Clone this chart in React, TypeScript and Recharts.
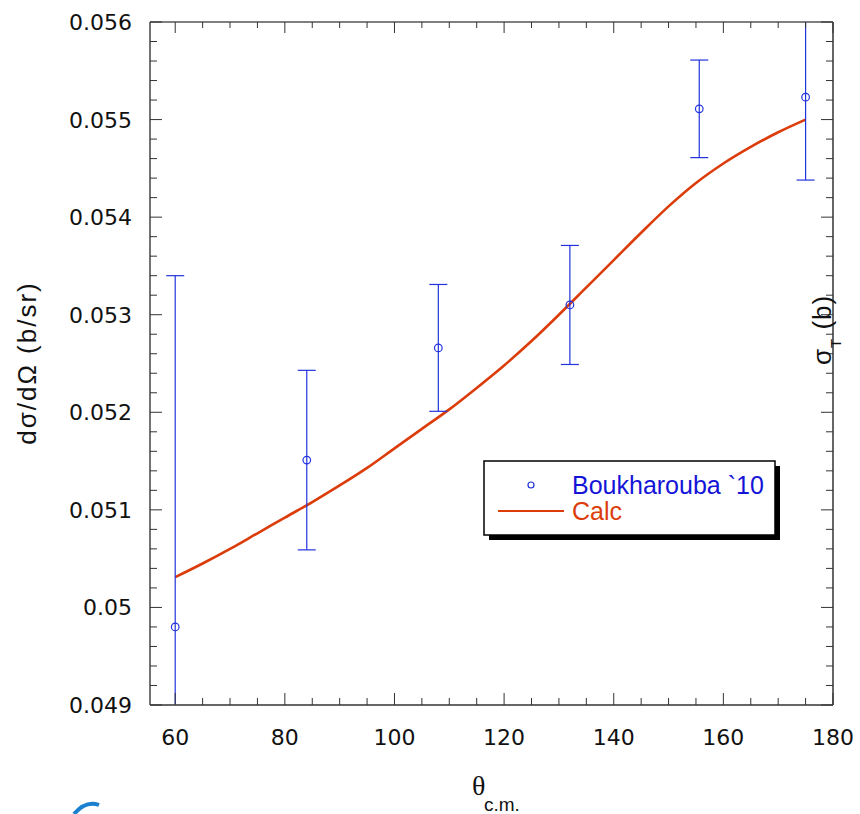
import {
  ComposedChart,
  Line,
  Scatter,
  ErrorBar,
  XAxis,
  YAxis,
} from "recharts";

// measured angular distribution (Boukharouba '10)
const EXP_THETA = [60, 84, 108, 132, 155.6, 175];
const EXP_XS = [0.0498, 0.05151, 0.05266, 0.0531, 0.05511, 0.05523];
const EXP_ERR = [0.0036, 0.00092, 0.00065, 0.00061, 0.0005, 0.00085];

// calculation
const CALC_THETA = [
  60, 65, 70, 75, 80, 85, 90, 95, 100, 105, 110, 115, 120, 125, 130, 135, 140,
  145, 150, 155, 160, 165, 170, 175,
];
const CALC_XS = [
  0.05031, 0.05045, 0.0506, 0.05076, 0.05092, 0.05108, 0.05125, 0.05143,
  0.05163, 0.05183, 0.05203, 0.05225, 0.05248, 0.05273, 0.053, 0.05328,
  0.05356, 0.05384, 0.05411, 0.05435, 0.05455, 0.05472, 0.05487, 0.055,
];

const X_MAJOR = [60, 80, 100, 120, 140, 160, 180];
const Y_MAJOR = [0.049, 0.05, 0.051, 0.052, 0.053, 0.054, 0.055, 0.056];

const X_DOMAIN: [number, number] = [55.4, 180];
const Y_DOMAIN: [number, number] = [0.049, 0.056];

// minor ticks: every 5 deg on x, every 0.0002 on y
const xTicks: number[] = [];
for (let v = 60; v <= 180; v += 5) xTicks.push(v);
const yTicks: number[] = [];
for (let i = 0; i <= 35; i++) yTicks.push(+(0.049 + i * 0.0002).toFixed(5));

const expData = EXP_THETA.map((t, i) => ({ x: t, y: EXP_XS[i], err: EXP_ERR[i] }));
const calcData = CALC_THETA.map((t, i) => ({ x: t, calc: CALC_XS[i] }));

const BLUE = "#2233dd";
const RED = "#dc3c0a";
const TICK = "#333";
const FONT = "'DejaVu Sans', sans-serif";
const SANS = "'Liberation Sans', Arial, sans-serif";

const isMajorX = (v: number) => X_MAJOR.some((m) => Math.abs(m - v) < 1e-6);
const isMajorY = (v: number) => Y_MAJOR.some((m) => Math.abs(m - v) < 1e-7);

function LeftTick({ x, y, payload }: any) {
  const major = isMajorY(payload.value);
  return (
    <g>
      <line x1={x} x2={x + (major ? 12 : 7)} y1={y} y2={y} stroke={TICK} />
      {major && (
        <text
          x={x - 18}
          y={y}
          dy={8}
          textAnchor="end"
          fontSize={22}
          fontFamily={FONT}
          fill="#111"
        >
          {String(payload.value)}
        </text>
      )}
    </g>
  );
}

function RightTick({ x, y, payload }: any) {
  const major = isMajorY(payload.value);
  return <line x1={x} x2={x - (major ? 12 : 7)} y1={y} y2={y} stroke={TICK} />;
}

function BottomTick({ x, y, payload }: any) {
  const major = isMajorX(payload.value);
  return (
    <g>
      <line x1={x} x2={x} y1={y} y2={y - (major ? 12 : 7)} stroke={TICK} />
      {major && (
        <text
          x={x}
          y={y + 40}
          textAnchor="middle"
          fontSize={22}
          fontFamily={FONT}
          fill="#111"
        >
          {String(payload.value)}
        </text>
      )}
    </g>
  );
}

function TopTick({ x, y, payload }: any) {
  const major = isMajorX(payload.value);
  return <line x1={x} x2={x} y1={y} y2={y + (major ? 11 : 6)} stroke={TICK} />;
}

function OpenCircle({ cx, cy }: any) {
  return <circle cx={cx} cy={cy} r={3.8} fill="none" stroke={BLUE} strokeWidth={1.2} />;
}

export default function App() {
  return (
    <div style={{ position: "absolute", left: 0, top: 0, width: 860, height: 814, background: "#fff" }}>
      {/* error bars are clipped to the plot frame */}
      <style>{`.recharts-errorBar { clip-path: url(#plot-clip); }`}</style>
      <ComposedChart
        width={860}
        height={814}
        margin={{ top: 12, right: 7, bottom: 79, left: 90 }}
      >
        <XAxis
          xAxisId="b"
          type="number"
          dataKey="x"
          domain={X_DOMAIN}
          allowDataOverflow
          ticks={xTicks}
          interval={0}
          height={30}
          tickSize={0}
          tickMargin={0}
          tickLine={false}
          tick={<BottomTick />}
          axisLine={{ stroke: "#666", strokeWidth: 2 }}
        />
        <XAxis
          xAxisId="t"
          orientation="top"
          type="number"
          dataKey="x"
          domain={X_DOMAIN}
          allowDataOverflow
          ticks={xTicks}
          interval={0}
          height={10}
          tickSize={0}
          tickMargin={0}
          tickLine={false}
          tick={<TopTick />}
          axisLine={{ stroke: "#555", strokeWidth: 1.5 }}
        />
        <YAxis
          yAxisId="l"
          type="number"
          domain={Y_DOMAIN}
          allowDataOverflow
          ticks={yTicks}
          interval={0}
          width={60}
          tickSize={0}
          tickMargin={0}
          tickLine={false}
          tick={<LeftTick />}
          axisLine={{ stroke: "#444", strokeWidth: 1.5 }}
        />
        <YAxis
          yAxisId="r"
          orientation="right"
          type="number"
          domain={Y_DOMAIN}
          allowDataOverflow
          ticks={yTicks}
          interval={0}
          width={20}
          tickSize={0}
          tickMargin={0}
          tickLine={false}
          tick={<RightTick />}
          axisLine={{ stroke: "#666", strokeWidth: 2 }}
        />
        <Line
          xAxisId="b"
          yAxisId="l"
          data={calcData}
          dataKey="calc"
          type="monotone"
          stroke={RED}
          strokeWidth={2.6}
          dot={false}
          isAnimationActive={false}
        />
        <Scatter
          xAxisId="b"
          yAxisId="l"
          data={expData}
          dataKey="y"
          shape={<OpenCircle />}
          isAnimationActive={false}
        >
          <ErrorBar
            dataKey="err"
            direction="y"
            width={9}
            stroke={BLUE}
            strokeWidth={1.2}
            isAnimationActive={false}
          />
        </Scatter>
      </ComposedChart>

      <svg
        width={860}
        height={814}
        style={{ position: "absolute", left: 0, top: 0, pointerEvents: "none" }}
      >
        <defs>
          <clipPath id="plot-clip" clipPathUnits="userSpaceOnUse">
            <rect x={150} y={22} width={683} height={683} />
          </clipPath>
        </defs>

        {/* axis titles */}
        <text
          transform="translate(36,363) rotate(-90)"
          textAnchor="middle"
          fontSize={26}
          letterSpacing={2}
          fontFamily={SANS}
          fill="#111"
        >
          dσ/dΩ (b/sr)
        </text>
        <text
          transform="translate(831,365) rotate(-90)"
          fontSize={26}
          letterSpacing={1}
          fontFamily={SANS}
          fill="#111"
        >
          σ
          <tspan dy={10} fontSize={15}>T</tspan>
          <tspan dy={-10}> (b)</tspan>
        </text>
        <text x={472} y={795} fontSize={28} fontFamily="'Liberation Serif', serif" fill="#111">
          θ
        </text>
        <text x={484} y={811} fontSize={19} fontFamily={SANS} fill="#111">
          c.m.
        </text>

        {/* legend */}
        <rect x={489} y={466} width={291} height={74} fill="#000" />
        <rect x={484} y={461} width={291} height={74} fill="#fff" stroke="#000" strokeWidth={1.5} />
        <circle cx={531} cy={485} r={3} fill="none" stroke={BLUE} strokeWidth={1.2} />
        <text x={572} y={494} fontSize={25} fontFamily={SANS} fill="#1414d8">
          Boukharouba `10
        </text>
        <line x1={498} x2={564} y1={511} y2={511} stroke={RED} strokeWidth={1.8} />
        <text x={572} y={520} fontSize={25} fontFamily={SANS} fill={RED}>
          Calc
        </text>

        {/* stray icon fragment at bottom-left */}
        <path d="M 74 814 Q 86 800 99 805" fill="none" stroke="#1b80d0" strokeWidth={4} />
      </svg>
    </div>
  );
}
